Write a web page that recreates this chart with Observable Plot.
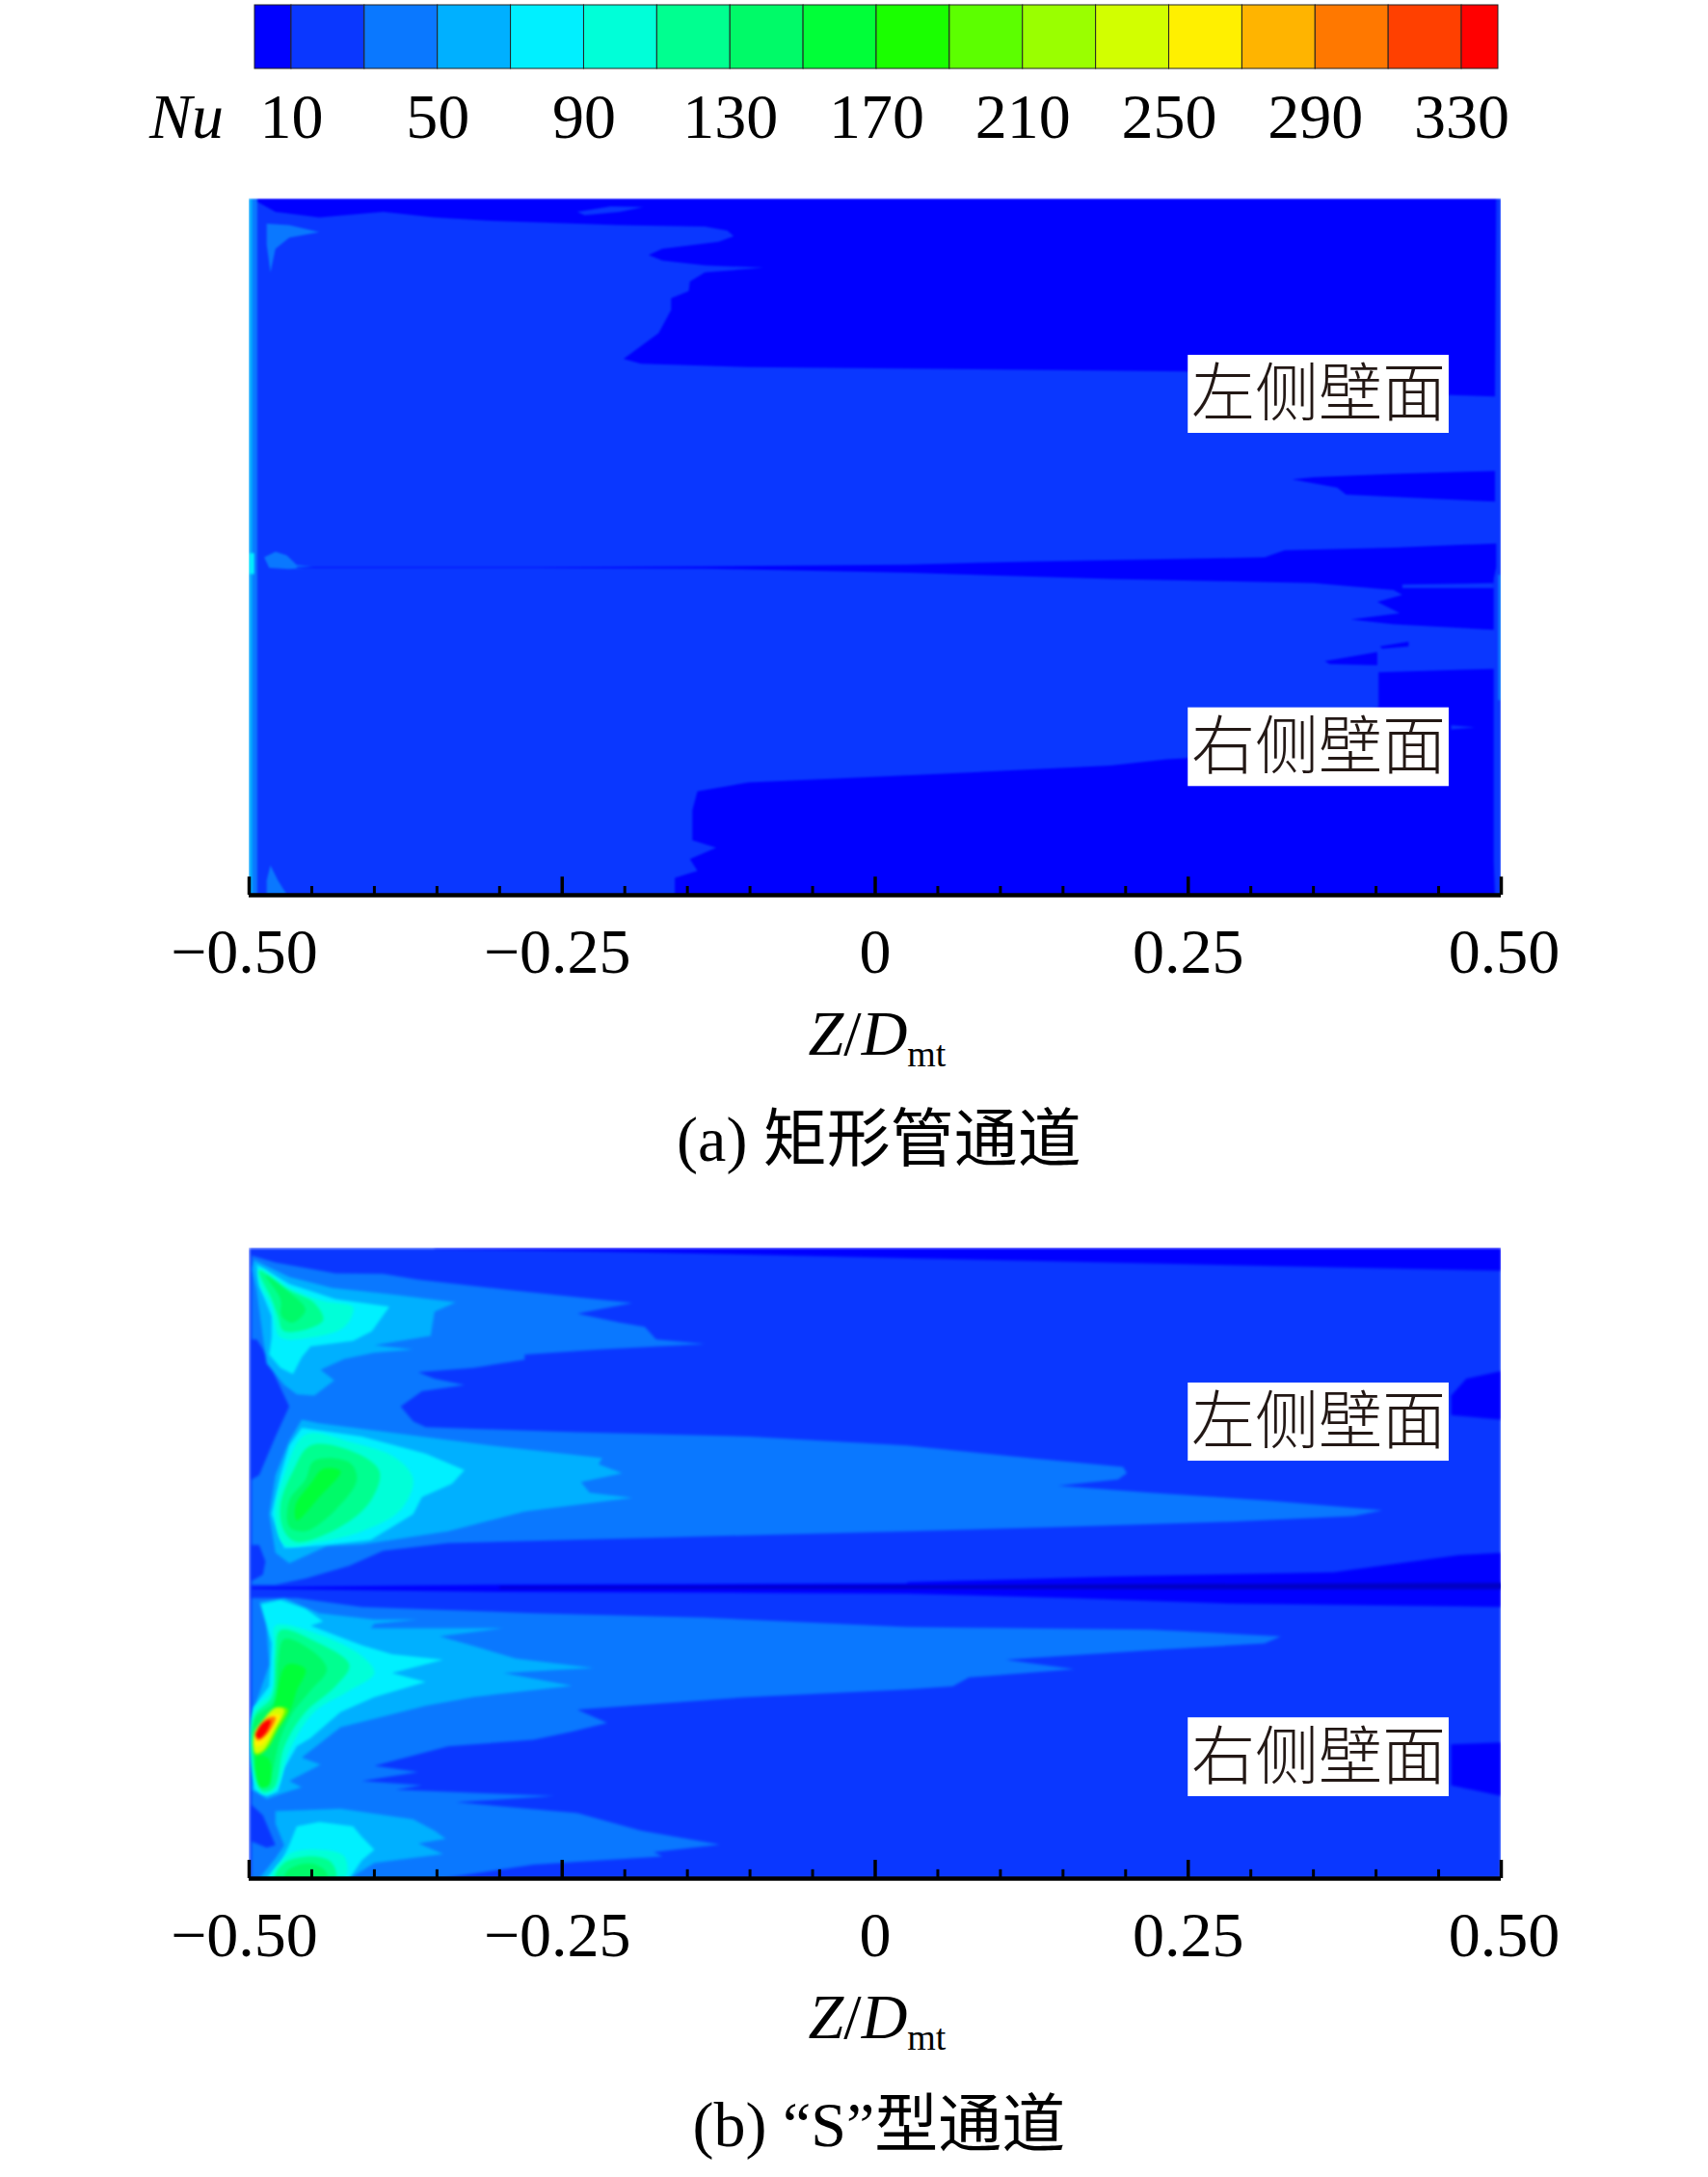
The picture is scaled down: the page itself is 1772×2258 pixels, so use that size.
<!DOCTYPE html>
<html><head><meta charset="utf-8">
<script src="https://cdn.jsdelivr.net/npm/d3@7"></script>
<script src="https://cdn.jsdelivr.net/npm/@observablehq/plot@0.6"></script>
<style>
html,body{margin:0;padding:0;background:#fff}
#page{position:relative;width:1772px;height:2258px;overflow:hidden;font-family:"Liberation Serif","Noto Sans CJK SC",serif;color:#000}
#page svg{position:absolute;left:0;background:transparent;overflow:visible}
.t{position:absolute;font-size:66px;line-height:66px;white-space:nowrap}
.t sub{font-size:38px;font-style:normal;vertical-align:baseline;position:relative;top:12px}
</style></head><body><div id="page"></div>
<script>
const FONT='"Liberation Serif","Noto Sans CJK SC",serif';
// colour legend
const legendEdges=[10,30,50,70,90,110,130,150,170,190,210,230,250,270,290,310,330];
const legendLabels=[10,50,90,130,170,210,250,290,330];
const bandColors=["#0000ff","#0a37ff","#0a78ff","#00b0ff","#00f0ff","#00ffd8","#00ff90","#00fa68","#00ff38","#1aff00","#5cff00","#9aff00","#d2ff00","#fff000","#ffb400","#ff7800","#ff4000","#ff0000"];
const xTicksMajor=[-0.5,-0.25,0,0.25,0.5];
const xTicksMinor=[-0.45,-0.4,-0.35,-0.3,-0.2,-0.15,-0.1,-0.05,0.05,0.1,0.15,0.2,0.3,0.35,0.4,0.45];
const xTickText=["−0.50","−0.25","0","0.25","0.50"];

// Panel (a): contour bands as [Z/Dmt, wall height %]
const aFull=[[-.5,0],[.5,0],[.5,100],[-.5,100]];
const aDarkTop=[[-.498,100],[-.479,98.1],[-.444,97.3],[-.393,98.1],[-.352,97.3],[-.307,96.8],[-.204,96.2],[-.136,96],[-.118,95.4],[-.113,94.6],[-.125,93.8],[-.17,92.8],[-.181,91.9],[-.17,91.1],[-.136,90.4],[-.089,90.1],[-.136,89.4],[-.148,88.1],[-.149,86.7],[-.163,85.7],[-.163,84],[-.173,80.7],[-.201,77],[-.187,76.3],[-.101,75.8],[.025,75.6],[.25,75.2],[.46,71.8],[.495,71.6],[.496,100]];
const aIsland=[[-.238,98.1],[-.211,98.9],[-.185,98.8],[-.204,98.1],[-.232,97.6]];
const aPatchTop=[[-.486,96.4],[-.468,96.2],[-.444,95.2],[-.468,94.4],[-.479,92.8],[-.483,89.4],[-.486,93.4]];
const aStrip40=[[-.5,0],[-.4935,0],[-.4935,100],[-.5,100]];
const aStrip60=[[-.5,0],[-.4975,0],[-.4975,100],[-.5,100]];
const aStrip80=[[-.5,46.1],[-.496,46.1],[-.496,49.1],[-.5,49.1]];
const aPatchDiv=[[-.488,48.5],[-.479,49.3],[-.47,48.8],[-.462,47.4],[-.448,47.1],[-.468,46.8],[-.484,47]];
const aPatchBottom=[[-.483,4.3],[-.477,2.1],[-.47,0.1],[-.486,0.1],[-.486,2.1]];
const aDarkDiv=[[-.462,47.1],[-.273,47.1],[-.136,47.2],[.025,47.45],[.123,47.9],[.311,48.5],[.327,49.5],[.414,49.9],[.496,50.5],[.496,47.1],[.494,45.4],[.494,38.1],[.414,38.9],[.38,39.6],[.419,40.5],[.401,42.1],[.421,43.1],[.414,43.8],[.35,44.8],[.188,45.4],[.026,46.3],[-.136,46.9],[-.273,47],[-.462,47]];
const aSliverLight=[[.421,44.6],[.494,44.8],[.494,44.1],[.421,44.1]];
const aWedge=[[.333,59.7],[.369,58.5],[.376,57.5],[.495,56.5],[.495,60.9],[.414,60.5],[.35,60]];
const aSliver1=[[.359,33.6],[.401,34.9],[.401,33],[.363,33.2]];
const aSliver2=[[.403,35.7],[.426,36.4],[.426,35.7],[.405,35.4]];
const aDarkBottom=[[-.16,0],[-.16,2.5],[-.142,3.5],[-.148,5.2],[-.127,6.8],[-.146,7.9],[-.146,12.2],[-.142,14.9],[-.101,16.2],[.025,17.2],[.188,18.6],[.233,19.5],[.251,19.7],[.402,27],[.402,32],[.494,32.5],[.494,4.8],[.495,0]];
const aStripeBottom=[[.46,24.4],[.479,24.1],[.46,23.8]];
const aRightEdge=[[.4975,28],[.5,28],[.5,46],[.4975,46]];
const panelA=[[20,aFull],[5,aDarkTop],[20,aIsland],[40,aPatchTop],[40,aStrip40],[60,aStrip60],[80,aStrip80],[40,aPatchDiv],[40,aPatchBottom],[5,aDarkDiv],[20,aSliverLight],[5,aWedge],[5,aSliver1],[5,aSliver2],[5,aDarkBottom],[20,aStripeBottom],[40,aRightEdge]];

// Panel (b)
const bFull=aFull;
const bDarkTop=[[-.352,100],[.5,100],[.5,96.4],[.35,97],[.188,97.7],[.026,98.4],[-.2,99.4],[-.352,99.9]];
const bUpper40=[[-.498,98.8],[-.479,97.7],[-.431,96],[-.393,95.9],[-.365,95],[-.29,93.3],[-.194,91.3],[-.238,89.6],[-.204,88.2],[-.184,87.5],[-.175,85.5],[-.136,84.8],[-.221,83.9],[-.28,83.1],[-.28,82.3],[-.321,81],[-.365,80.3],[-.352,79.3],[-.328,78.3],[-.362,77.3],[-.379,74.9],[-.369,72.5],[-.359,71.6],[-.238,70.8],[-.101,70.1],[.025,68.7],[.123,66.7],[.198,65.3],[.201,64.3],[.194,63.3],[.146,62.3],[.22,61.2],[.317,59.9],[.405,58.4],[.382,57.5],[.285,56.6],[.156,55.8],[.026,55.1],[-.17,54.1],[-.341,53.2],[-.393,52],[-.42,49.6],[-.455,47.6],[-.479,46.6],[-.498,46.6]];
const bLeftDark1=[[-.498,85.5],[-.494,85.5],[-.489,84],[-.484,81.7],[-.468,74.9],[-.479,70.1],[-.492,64],[-.498,63.3]];
const bLeftDark2=[[-.498,52.9],[-.492,52.9],[-.487,50.3],[-.489,48.2],[-.498,47.2]];
const bLower40=[[-.498,44.5],[-.462,44.5],[-.41,43.1],[-.273,42.1],[-.136,41.4],[.025,39.9],[.22,39.5],[.324,38.4],[.311,37.3],[.227,36.3],[.104,34.7],[.159,33.2],[.075,31.9],[.062,30.5],[.026,30],[-.101,28.8],[-.238,26.8],[-.214,24.7],[-.242,23.3],[-.273,22],[-.341,21],[-.4,17.9],[-.365,16.9],[-.41,15.5],[-.362,14.8],[-.383,14.1],[-.256,13.1],[-.335,12.1],[-.238,10.4],[-.187,7.6],[-.124,5.4],[-.177,4.2],[-.17,3.5],[-.273,2.2],[-.348,0],[-.498,0]];
const bLeftDark3=[[-.498,11.7],[-.489,10],[-.479,5.3],[-.486,4.9],[-.498,5.9]];
const bDarkRight1=[[.46,76.6],[.472,79.3],[.5,80.5],[.5,72.8],[.46,73.5]];
const bDarkRight2=[[.46,21.3],[.5,21.6],[.5,13.1],[.46,14.8]];
const bDarkDiv=[[-.498,46.2],[-.307,46.6],[.025,46.8],[.026,47],[.188,47.9],[.366,48.6],[.466,51.3],[.5,51.7],[.5,43.1],[.285,43.6],[.155,44.5],[.026,45.2],[-.307,45.5],[-.498,46]];
const bCore=[[-.3,46.3],[.5,46.9],[.5,45.9],[-.3,46]];
const b60a=[[-.496,98.1],[-.468,95.4],[-.434,93.7],[-.383,92.6],[-.335,91.4],[-.352,89.9],[-.355,86.1],[-.4,84.6],[-.369,83.9],[-.4,83.4],[-.424,82.4],[-.443,80.7],[-.432,79],[-.448,76.6],[-.462,76.8],[-.472,78.3],[-.486,81.7],[-.489,85.8],[-.494,93.3],[-.498,96.7]];
const b60b=[[-.458,72.8],[-.444,72.2],[-.307,68.7],[-.218,66.7],[-.221,65.7],[-.202,64.3],[-.235,62.9],[-.228,61.2],[-.194,60.4],[-.28,58.2],[-.341,55.1],[-.41,53],[-.438,52.7],[-.468,50],[-.479,51.7],[-.484,57.8],[-.479,64],[-.468,69.4]];
const b60c=[[-.492,43.8],[-.472,44.5],[-.444,42.1],[-.4,41.1],[-.365,41.1],[-.4,40.4],[-.403,39.7],[-.297,39.7],[-.348,38.4],[-.328,37.3],[-.314,36.5],[-.287,34.9],[-.225,33.4],[-.297,32.6],[-.242,30.6],[-.321,28.8],[-.359,27.4],[-.427,24],[-.458,19.2],[-.443,18.1],[-.468,15.5],[-.458,14.5],[-.475,13.4],[-.486,12.6],[-.498,14.1],[-.496,27.1],[-.484,33.9],[-.487,42.1]];
const b60d=[[-.479,10.7],[-.427,11.1],[-.369,9.4],[-.352,7.6],[-.343,6.3],[-.365,5.6],[-.345,3.9],[-.4,2.5],[-.42,0],[-.492,0],[-.479,3.2],[-.472,5.3],[-.479,8.7]];
const b80a=[[-.494,97.4],[-.468,94.3],[-.431,91.9],[-.388,90.7],[-.402,86.8],[-.417,85.3],[-.451,84.4],[-.458,82.7],[-.465,80],[-.475,81],[-.484,83.1],[-.482,85.8],[-.482,89.2],[-.492,94]];
const b80b=[[-.458,71.5],[-.41,70.1],[-.359,67.4],[-.328,64.8],[-.338,62.6],[-.362,60.5],[-.369,57.8],[-.403,53.7],[-.438,52.9],[-.472,52.4],[-.482,57.8],[-.475,64],[-.468,68.7]];
const b80c=[[-.491,43.5],[-.475,44.2],[-.455,42.8],[-.441,40.8],[-.451,40.1],[-.41,37],[-.386,35.6],[-.345,34.7],[-.386,32.6],[-.359,31.2],[-.4,28.8],[-.427,26.4],[-.451,22.3],[-.462,21],[-.472,17.5],[-.477,13.8],[-.486,13.1],[-.496,14.1],[-.497,27.1],[-.484,30.5],[-.482,37.3],[-.489,42.1]];
const b80d=[[-.462,8.3],[-.444,9],[-.417,8.3],[-.41,6.6],[-.4,4.6],[-.41,2.9],[-.42,0],[-.487,0],[-.475,2.5],[-.468,5.3]];
const b100a=[[-.492,96.7],[-.468,93.7],[-.441,91.6],[-.417,90.6],[-.424,87.5],[-.451,85.8],[-.475,85.8],[-.48,88.5],[-.482,90.9],[-.491,94]];
const b120a=[[-.492,96.4],[-.468,93.3],[-.448,91.3],[-.441,88.5],[-.472,86.8],[-.477,89.2],[-.482,91.9]];
const b140a=[[-.487,95.7],[-.468,93],[-.455,90.2],[-.465,88.2],[-.474,89.2],[-.475,91.9]];
const b100b=[[-.455,70.4],[-.417,69.1],[-.383,66.7],[-.369,63.3],[-.379,58.5],[-.41,55.1],[-.444,53.4],[-.472,53],[-.479,57.8],[-.472,64]];
const b120b=[[-.451,68.7],[-.417,67.7],[-.396,64.6],[-.403,59.9],[-.427,55.8],[-.462,53.4],[-.472,55.1],[-.475,59.2],[-.465,64.6]];
const b140b=[[-.448,66.3],[-.42,66],[-.414,63.3],[-.431,58.5],[-.455,55.1],[-.468,55.8],[-.468,59.9],[-.455,63.3]];
const b160b=[[-.441,65],[-.427,64.6],[-.444,60.5],[-.462,56.8],[-.463,59.2],[-.451,62.6]];
const b100c=[[-.479,40.1],[-.444,38.7],[-.41,35.3],[-.4,32.6],[-.42,29.8],[-.448,26.4],[-.468,20.3],[-.479,14.1],[-.489,13.4],[-.496,15.5],[-.497,26.4],[-.482,29.8],[-.48,36.7]];
const b120c=[[-.475,39.4],[-.448,37.7],[-.42,33.9],[-.431,30.5],[-.455,26.4],[-.472,20.9],[-.48,14.5],[-.489,13.8],[-.495,16.2],[-.496,25.7],[-.482,28.8],[-.479,35.3]];
const b140c=[[-.472,38],[-.451,36.3],[-.438,33.2],[-.451,29.8],[-.465,26.4],[-.475,22.3],[-.484,15.5],[-.489,14.5],[-.494,16.9],[-.496,25.1],[-.48,28.1],[-.477,33.9]];
const b160c=[[-.47,33.9],[-.455,33.2],[-.462,29.8],[-.468,26.4],[-.49,21],[-.494,22],[-.482,26.4]];
const b160e=[[-.494,19.6],[-.484,18.9],[-.484,14.8],[-.491,14.5],[-.495,16.9]];
const b200=[[-.477,27.2],[-.469,26.8],[-.477,23.7],[-.487,20.3],[-.495,19.6],[-.496,22.7],[-.487,25.4]];
const b240=[[-.479,27.1],[-.472,26.8],[-.479,23.7],[-.489,20.3],[-.495,19.9],[-.496,23],[-.489,25.1]];
const b260=[[-.482,26],[-.475,25.9],[-.482,23.3],[-.489,21.3],[-.495,21],[-.495,23],[-.489,24.5]];
const b300=[[-.486,25.4],[-.479,25.6],[-.484,23.3],[-.491,22],[-.494,22],[-.494,23.3]];
const b335=[[-.489,24.7],[-.483,25.1],[-.486,23.3],[-.492,22.2],[-.495,22.7],[-.493,23.7]];
const b100d=[[-.468,3.9],[-.444,4.6],[-.424,3.5],[-.424,0],[-.482,0]];
const b120d=[[-.472,2.5],[-.448,3.5],[-.434,2.5],[-.431,0],[-.479,0]];
const b140d=[[-.468,1.5],[-.451,2.4],[-.439,1.2],[-.438,0],[-.472,0]];
const panelB=[[20,bFull],[5,bDarkTop],[40,bUpper40],[20,bLeftDark1],[20,bLeftDark2],[40,bLower40],[20,bLeftDark3],[5,bDarkRight1],[5,bDarkRight2],[5,bDarkDiv],
[60,b60a],[60,b60b],[60,b60c],[60,b60d],[80,b80a],[80,b80b],[80,b80c],[80,b80d],
[100,b100a],[120,b120a],[140,b140a],[100,b100b],[120,b120b],[140,b140b],[160,b160b],
[100,b100c],[120,b120c],[140,b140c],[160,b160c],[160,b160e],[100,b100d],[120,b120d],[140,b140d],
[200,b200],[240,b240],[260,b260],[300,b300],[335,b335]];

// wall labels: text, Z range, height range
const labelsA=[["左侧壁面",0.25,0.4584,66.3,77.5],["右侧壁面",0.25,0.4584,15.6,26.9]];
const labelsB=[["左侧壁面",0.25,0.4584,66.2,78.6],["右侧壁面",0.25,0.4584,13,25.5]];

const colorScale={type:"threshold",domain:legendEdges,range:bandColors};
function rows(panel){return panel.flatMap(([nu,pts],id)=>pts.map(([z,h])=>({z,h,nu,id})));}
const tickLabel=d=>xTickText[xTicksMajor.indexOf(d)];

function panelPlot(panel,labels,core,top,height,mTop,mBottom,majorLen,minorLen,blur){
  const page=document.getElementById("page");
  const all=rows(panel);
  const marks=[
    Plot.line(all.filter(d=>d.nu<100),{x:"z",y:"h",z:"id",fill:"nu",stroke:null,curve:"linear",clip:"frame"}),
    Plot.line(all.filter(d=>d.nu>=100),{x:"z",y:"h",z:"id",fill:"nu",stroke:null,curve:"catmull-rom-closed",clip:"frame"})
  ];
  if(core)marks.push(Plot.line(core,{x:d=>d[0],y:d=>d[1],fill:"#0000c4",stroke:null,clip:"frame"}));
  marks.push(
    Plot.rect(labels,{x1:d=>d[1],x2:d=>d[2],y1:d=>d[3],y2:d=>d[4],fill:"#fff"}),
    Plot.text(labels,{x:d=>(d[1]+d[2])/2,y:d=>(d[3]+d[4])/2,text:d=>d[0],fontSize:66,fontFamily:FONT,fill:"#231815",fontWeight:300,dy:1}),
    Plot.ruleX(xTicksMinor,{y1:0,y2:minorLen,stroke:"#000",strokeWidth:3}),
    Plot.ruleX(xTicksMajor,{y1:0,y2:majorLen,stroke:"#000",strokeWidth:3.5}),
    Plot.ruleY([0],{stroke:"#000",strokeWidth:4.5}),
    Plot.axisX({ticks:[-0.5,-0.25],tickSize:0,tickPadding:34,tickFormat:tickLabel,fontSize:66,fontFamily:FONT,fill:"#000",label:null,anchor:"bottom",dx:-5}),
    Plot.axisX({ticks:[0,0.25],tickSize:0,tickPadding:34,tickFormat:tickLabel,fontSize:66,fontFamily:FONT,fill:"#000",label:null,anchor:"bottom"}),
    Plot.axisX({ticks:[0.5],tickSize:0,tickPadding:34,tickFormat:tickLabel,fontSize:66,fontFamily:FONT,fill:"#000",label:null,anchor:"bottom",dx:3})
  );
  const svg=Plot.plot({width:1772,height,marginLeft:258,marginRight:215,marginTop:mTop,marginBottom:mBottom,
    x:{domain:[-.5,.5],axis:null},y:{domain:[0,100],axis:null},color:colorScale,marks,style:{background:"transparent",overflow:"visible"}});
  // soften the contour edges the way the photographed figure does
  svg.querySelectorAll('g[aria-label="line"]').forEach(g=>{g.style.filter=`blur(${blur}px)`;});
  svg.style.top=top+"px";page.appendChild(svg);
}
function addText(html,left,baseline,center){
  const d=document.createElement("div");d.className="t";d.innerHTML=html;
  d.style.top=(baseline-55)+"px";d.style.left=left+"px";
  if(center)d.style.transform="translateX(-50%)";
  document.getElementById("page").appendChild(d);
}
// legend bar
const edges=[0,...legendEdges,340];
const bands=edges.slice(0,-1).map((lo,i)=>({lo,hi:edges[i+1],mid:(lo+edges[i+1])/2}));
const legend=Plot.plot({width:1772,height:170,marginLeft:264,marginRight:218,marginTop:5,marginBottom:99,
  x:{domain:[0,340],axis:null},color:colorScale,style:{background:"transparent",overflow:"visible"},
  marks:[Plot.rect(bands,{x1:"lo",x2:"hi",fill:"mid",stroke:"#222",strokeWidth:1}),
  Plot.axisX({ticks:legendLabels,tickSize:0,tickPadding:25,fontSize:66,fontFamily:FONT,fill:"#000",label:null,anchor:"bottom",tickFormat:d=>String(d)})]});
legend.style.top="0px";document.getElementById("page").appendChild(legend);
addText("<i>Nu</i>",155,143);
panelPlot(panelA,labelsA,null,190,840,15.5,102,2.6,1.25,0.9);
panelPlot(panelB,labelsB,bCore,1280,780,14,112,2.9,1.4,1.6);
addText("<i>Z</i>/<i>D</i><sub>mt</sub>",910,1094,true);
addText("(a) 矩形管通道",912,1204,true);
addText("<i>Z</i>/<i>D</i><sub>mt</sub>",910,2114,true);
addText("(b) “S”型通道",912,2226,true);
</script></body></html>
